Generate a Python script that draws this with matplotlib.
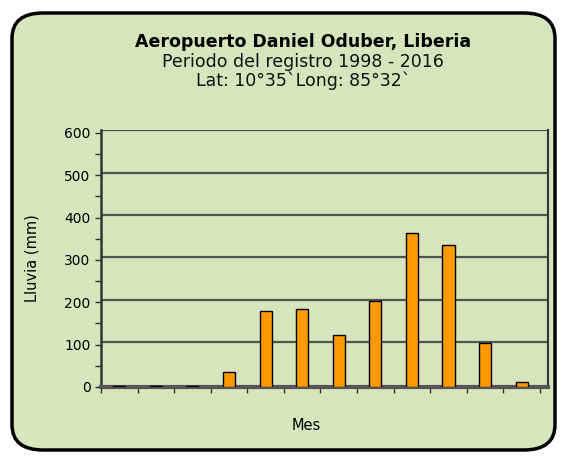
import matplotlib.pyplot as plt
from matplotlib.patches import FancyBboxPatch
from matplotlib.ticker import MultipleLocator, FixedLocator

meses = ['Ene', 'Feb', 'Mar', 'Abr', 'May', 'Jun', 'Jul', 'Ago', 'Sep', 'Oct', 'Nov', 'Dic']
lluvia = [3, 2, 2, 36, 180, 185, 123, 203, 364, 336, 104, 12]
y_ticks = [0, 100, 200, 300, 400, 500, 600]

panel = '#d8e4bc'
orange = '#ff9900'

fig = plt.figure(figsize=(5.66, 4.61), dpi=100)
fig.patch.set_facecolor('white')

box = FancyBboxPatch((12 / 566, 1 - 450 / 461), 543 / 566, 437 / 461,
                     boxstyle='round,pad=0,rounding_size=0.055',
                     transform=fig.transFigure, facecolor=panel,
                     edgecolor='black', linewidth=2.5, zorder=-5)
fig.patches.append(box)

ax = fig.add_axes([101 / 566, 1 - 387 / 461, 447 / 566, 257 / 461])
ax.set_zorder(2)
ax.set_facecolor('none')

x = list(range(len(meses)))
ax.bar(x, lluvia, width=0.33, color=orange, edgecolor='black', linewidth=1.0, zorder=3)

ax.set_xlim(-0.5, 11.72)
ax.set_ylim(0, 607)
ax.yaxis.set_major_locator(FixedLocator(y_ticks))
ax.yaxis.set_minor_locator(MultipleLocator(50))
ax.xaxis.set_major_locator(FixedLocator([i - 0.5 for i in range(13)]))
ax.set_xticklabels([])
ax.tick_params(axis='y', which='both', direction='out', length=4, width=1, labelsize=10, color='#333333')
ax.tick_params(axis='x', direction='out', length=4, width=1, color='#333333')

# back-wall gridlines sit a few pixels above the front ticks (3D look)
for v in y_ticks[1:]:
    ax.axhline(v + 6, color='#3a3a3a', linewidth=1.6, alpha=0.85, zorder=1)

ax.spines['top'].set_visible(False)
ax.spines['left'].set_color('#333333')
ax.spines['left'].set_linewidth(1.8)
ax.spines['right'].set_color('#333333')
ax.spines['right'].set_linewidth(1.5)
ax.spines['bottom'].set_color('#555555')
ax.spines['bottom'].set_linewidth(3)

ax.set_ylabel('Lluvia (mm)', fontsize=10.5)
ax.yaxis.set_label_coords(-0.137, 0.5)
ax.set_xlabel('Mes', fontsize=10.5)
ax.xaxis.set_label_coords(0.46, -0.12)

fig.text(0.535, 1 - 42 / 461, 'Aeropuerto Daniel Oduber, Liberia', ha='center', va='center',
         fontsize=12.5, fontweight='bold')
fig.text(0.535, 1 - 62 / 461, 'Periodo del registro 1998 - 2016', ha='center', va='center',
         fontsize=12.5, color='#111111')
fig.text(0.535, 1 - 81 / 461, 'Lat: 10°35`Long: 85°32`', ha='center', va='center',
         fontsize=12.5, color='#111111')

fig.savefig('out.png', dpi=100)
